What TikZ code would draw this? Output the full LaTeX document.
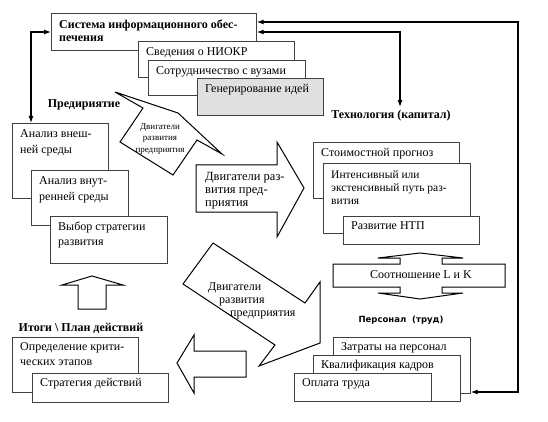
\documentclass[tikz,border=0pt]{standalone}
\usepackage{fontspec}
\setmainfont{Liberation Serif}
\newfontfamily\persfont{DejaVu Sans}
\usepackage{tikz}
\usetikzlibrary{positioning}
\usetikzlibrary{arrows.meta}

\begin{document}
\begin{tikzpicture}[x=1pt, y=-1pt,
    card/.style={draw=black!75, line width=0.7pt, fill=white, anchor=north west, inner sep=0pt},
    cardtext/.style={anchor=north west, align=left, inner xsep=8pt, inner ysep=6pt, font=\fontsize{12}{16}\selectfont},
    head/.style={font=\fontsize{12}{13}\selectfont\bfseries},
    blk/.style={draw, line width=1pt, fill=white, line join=miter},
    link/.style={line width=1.2pt, {Latex[length=7pt,width=5pt]}-{Latex[length=7pt,width=5pt]}}]

    \useasboundingbox (0,0) rectangle (548,422);

    % information system
    \node[card, minimum width=205pt, minimum height=37pt, label={[cardtext, head, inner ysep=7pt, font=\fontsize{12}{12.5}\selectfont\bfseries]north west:Система информационного обес-\\печения}] (sys) at (51,13) {};
    \node[card, minimum width=156pt, minimum height=36pt, label={[cardtext]north west:Сведения о НИОКР}] (niokr) at (138,41) {};
    \node[card, minimum width=157pt, minimum height=35pt, label={[cardtext]north west:Сотрудничество с вузами}] (vuz) at (148,60) {};
    \node[card, fill=black!12, minimum width=126pt, minimum height=37pt, label={[cardtext]north west:Генерирование идей}] (gen) at (197,78) {};

    % enterprise
    \node[head] (pred) at (84,105) {Предириятие};
    \node[card, minimum width=96pt, minimum height=75pt, label={[cardtext]north west:Анализ внеш-\\ней среды}] (ext) at (12,123) {};
    \node[card, minimum width=97pt, minimum height=55pt, label={[cardtext]north west:Анализ внут-\\ренней среды}] (int) at (31,170) {};
    \node[card, minimum width=117pt, minimum height=47pt, label={[cardtext, font=\fontsize{12}{15}\selectfont]north west:Выбор стратегии\\развития}] (strat) at (50,216) {};

    % technology
    \node[head] (tech) at (391,116) {Технология (капитал)};
    \node[card, minimum width=146pt, minimum height=56pt, label={[cardtext]north west:Стоимостной прогноз}] (prog) at (313,142) {};
    \node[card, minimum width=147pt, minimum height=70pt, label={[cardtext, inner ysep=7pt, font=\fontsize{11.5}{13}\selectfont]north west:Интенсивный или\\экстенсивный путь раз-\\вития}] (intens) at (323,163) {};
    \node[card, minimum width=136pt, minimum height=28pt, label={[cardtext, inner ysep=5pt]north west:Развитие НТП}] (ntp) at (343,216) {};

    % personnel
    \node[font=\persfont\bfseries\fontsize{8.5}{10}\selectfont] (pers) at (401,320) {Персонал~ (труд)};
    \node[card, minimum width=137pt, minimum height=56pt, label={[cardtext, inner ysep=5pt]north west:Затраты на персонал}] (zat) at (333,337) {};
    \node[card, minimum width=147pt, minimum height=46pt, label={[cardtext, inner ysep=5pt]north west:Квалификация кадров}] (kval) at (313,355) {};
    \node[card, minimum width=137pt, minimum height=28pt, label={[cardtext, inner ysep=5pt]north west:Оплата труда}] (opl) at (294,373) {};

    % results
    \node[head] (itogi) at (81,328) {Итоги \textbackslash{} План действий};
    \node[card, minimum width=126pt, minimum height=55pt, label={[cardtext, inner ysep=5pt, font=\fontsize{12}{15}\selectfont]north west:Определение крити-\\ческих этапов}] (crit) at (12,337) {};
    \node[card, minimum width=136pt, minimum height=29pt, label={[cardtext, inner ysep=5pt]north west:Стратегия действий}] (stratd) at (32,373) {};

    % block arrows
    \draw[blk] (115,92) -- (178,113) -- (222,154) -- (197,140) -- (173,175) -- (120,142) -- (143,108) -- cycle;
    \node[align=center, font=\fontsize{9}{11.5}\selectfont] (dv1) at (160,139) {Двигатели\\развития\\предприятия};

    \draw[blk] (196,165) -- (277,165) -- (277,142) -- (304,188) -- (277,237) -- (277,212) -- (196,212) -- cycle;
    \node[cardtext, font=\fontsize{12.5}{13}\selectfont] (dv2) at (197,166) {Двигатели раз-\\вития пред-\\приятия};

    \draw[blk] (213,243) -- (305,303) -- (320,282) -- (320,343) -- (259,366) -- (275,345) -- (183,284) -- cycle;
    \node[anchor=north west, align=left, inner sep=0pt, font=\fontsize{12}{13}\selectfont] (dv3) at (208,282) {Двигатели\\\hspace{11pt}развития\\\hspace{22pt}предприятия};

    \draw[blk] (246,351) -- (194,351) -- (194,335) -- (177,363) -- (194,393) -- (194,377) -- (246,377) -- cycle;
    \draw[blk] (78,309) -- (78,285) -- (62,285) -- (92,276) -- (123,285) -- (106,285) -- (106,309) -- cycle;

    \draw[blk] (333,264) -- (400,264) -- (400,258) -- (378,258) -- (420,253) -- (463,258) -- (442,258) -- (442,264)
        -- (505,264) -- (505,287) -- (442,287) -- (442,293) -- (463,293) -- (420,299) -- (378,293) -- (400,293) -- (400,287) -- (333,287) -- cycle;
    \node[font=\fontsize{12}{12}\selectfont] (lk) at (421,275) {Соотношение L и K};

    % links
    \coordinate (r1) at (518,22);
    \coordinate (r2) at (518,392);
    \coordinate (m1) at (400,32);
    \coordinate (l1) at (31,32);
    \draw[link] (sys.east |- r1) -- (r1) -- (r2) -- (zat.east |- r2);
    \draw[link] (sys.east |- m1) -- (m1) -- (m1 |- tech.north);
    \draw[link] (sys.west |- l1) -- (l1) -- (l1 |- ext.north);

\end{tikzpicture}
\end{document}
